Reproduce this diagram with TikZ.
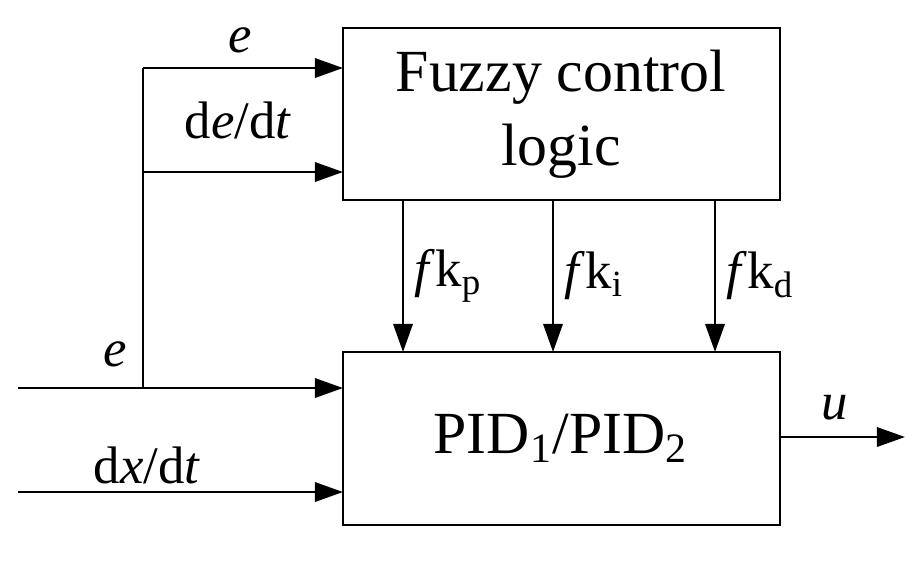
\documentclass[tikz,border=0pt]{standalone}
\usepackage{fontspec}
\setmainfont{Liberation Serif}
\usetikzlibrary{arrows.meta,positioning}
\begin{document}
\begin{tikzpicture}[x=0.01cm,y=-0.01cm,line width=0.7pt,
  sig/.style={-{Triangle[length=8pt,width=5.5pt]}},
  lbl/.style={font=\fontsize{15}{17}\selectfont,inner sep=1pt}]
\useasboundingbox (0,0) rectangle (913,560);
% blocks
\draw (343,28) rectangle (780,200);
\node[lbl,font=\fontsize{17}{21}\selectfont,align=center] (fuzzy) at (561,114) {Fuzzy control\\logic};
\draw (343,352) rectangle (780,525);
\node[lbl,font=\fontsize{17}{21}\selectfont] (pid) at (561,438) {PID\textsubscript{1}/PID\textsubscript{2}};
% coordinates
\coordinate (in1) at (18,388);
\coordinate (br) at (143,388);
\coordinate (in2) at (18,492);
\coordinate (top) at (143,68);
\coordinate (mid) at (143,172);
\coordinate (out) at (905,437);
% inputs
\draw[sig] (in1) -- (343,388);
\draw[sig] (in2) -- (343,492);
\draw (br) -- (top);
\draw[sig] (top) -- (343,68);
\draw[sig] (mid) -- (343,172);
\draw[sig] (780,437) -- (out);
% gains
\foreach \x/\s in {403/p,553/i,715/d}
  \draw[sig] (\x,200) -- (\x,352) node[lbl,midway,right=2pt] {\textit{f}k\textsubscript{\s}};
% labels
\node[lbl] (le1) at (240,40) {\textit{e}};
\node[lbl] (lde) at (238,120) {d\textit{e}/d\textit{t}};
\node[lbl] (le2) at (115,354) {\textit{e}};
\node[lbl] (ldx) at (147,465) {d\textit{x}/d\textit{t}};
\node[lbl] (lu) at (835,408) {\textit{u}};
\end{tikzpicture}
\end{document}
